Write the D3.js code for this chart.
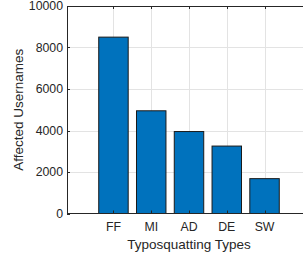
<!DOCTYPE html>
<html>
<head>
<meta charset="utf-8">
<script src="https://cdn.jsdelivr.net/npm/d3@7"></script>
<style>
  body { margin: 0; background: #fff; }
  svg { display: block; font-family: "Liberation Sans", Arial, sans-serif; }
</style>
</head>
<body>
<div class="chart"></div>
<script>
const width = 303;
const height = 258;

const categories = ["FF", "MI", "AD", "DE", "SW"];
const values = [8500, 4950, 3950, 3250, 1680];
const yTicks = [0, 2000, 4000, 6000, 8000, 10000];

const margin = { left: 67, top: 6, bottom: 45 };
const plotBottom = height - margin.bottom + 0.5;

const svg = d3
  .select(".chart")
  .append("svg")
  .attr("width", width)
  .attr("height", height);

// x positions like matlab: category i sits at i+1
const x = d3.scaleLinear().domain([-0.23, 6.23]).range([margin.left, 311]);
const y = d3.scaleLinear().domain([0, 10000]).range([plotBottom, margin.top]);

const axisColor = "#262626";
const gridColor = "#e3e3e3";

// grid
svg
  .append("g")
  .selectAll("line")
  .data(yTicks.slice(1, -1))
  .enter()
  .append("line")
  .attr("x1", margin.left)
  .attr("x2", width)
  .attr("y1", (d) => Math.round(y(d)) + 0.5)
  .attr("y2", (d) => Math.round(y(d)) + 0.5)
  .attr("stroke", gridColor);

svg
  .append("g")
  .selectAll("line")
  .data(categories)
  .enter()
  .append("line")
  .attr("x1", (d, i) => Math.round(x(i + 1)) + 0.5)
  .attr("x2", (d, i) => Math.round(x(i + 1)) + 0.5)
  .attr("y1", margin.top)
  .attr("y2", plotBottom)
  .attr("stroke", gridColor);

// bars
const barW = (x(1) - x(0)) * 0.78;
svg
  .append("g")
  .selectAll("rect")
  .data(values)
  .enter()
  .append("rect")
  .attr("x", (d, i) => x(i + 1) - barW / 2)
  .attr("width", barW)
  .attr("y", (d) => y(d))
  .attr("height", (d) => y(0) - y(d))
  .attr("fill", "#0072BD")
  .attr("stroke", "#1a1a1a")
  .attr("stroke-width", 1);

// axes lines
svg
  .append("line")
  .attr("x1", margin.left + 0.5)
  .attr("x2", margin.left + 0.5)
  .attr("y1", margin.top)
  .attr("y2", plotBottom)
  .attr("stroke", axisColor);
svg
  .append("line")
  .attr("x1", margin.left)
  .attr("x2", width)
  .attr("y1", plotBottom)
  .attr("y2", plotBottom)
  .attr("stroke", axisColor);
svg
  .append("line")
  .attr("x1", margin.left)
  .attr("x2", width)
  .attr("y1", margin.top + 0.5)
  .attr("y2", margin.top + 0.5)
  .attr("stroke", axisColor);

// ticks, inward like matlab
categories.forEach((c, i) => {
  const xp = Math.round(x(i + 1)) + 0.5;
  svg.append("line").attr("x1", xp).attr("x2", xp)
    .attr("y1", plotBottom).attr("y2", plotBottom - 3).attr("stroke", axisColor);
  svg.append("line").attr("x1", xp).attr("x2", xp)
    .attr("y1", margin.top).attr("y2", margin.top + 3).attr("stroke", axisColor);
});
yTicks.forEach((t) => {
  const yp = Math.round(y(t)) + 0.5;
  svg.append("line").attr("x1", margin.left).attr("x2", margin.left + 3)
    .attr("y1", yp).attr("y2", yp).attr("stroke", axisColor);
});

// tick labels
svg
  .append("g")
  .selectAll("text")
  .data(yTicks)
  .enter()
  .append("text")
  .attr("x", margin.left - 4)
  .attr("y", (d) => y(d))
  .attr("dy", "0.36em")
  .attr("text-anchor", "end")
  .attr("font-size", "12.3px")
  .attr("fill", axisColor)
  .text((d) => d);

svg
  .append("g")
  .selectAll("text")
  .data(categories)
  .enter()
  .append("text")
  .attr("x", (d, i) => x(i + 1))
  .attr("y", 230.5)
  .attr("text-anchor", "middle")
  .attr("font-size", "12.3px")
  .attr("fill", axisColor)
  .text((d) => d);

// axis titles
svg
  .append("text")
  .attr("x", x(3))
  .attr("y", 249)
  .attr("text-anchor", "middle")
  .attr("font-size", "13.5px")
  .attr("fill", axisColor)
  .text("Typosquatting Types");

svg
  .append("text")
  .attr("transform", `translate(22.5, ${(margin.top + plotBottom) / 2}) rotate(-90)`)
  .attr("text-anchor", "middle")
  .attr("font-size", "13.5px")
  .attr("fill", axisColor)
  .text("Affected Usernames");
</script>
</body>
</html>
